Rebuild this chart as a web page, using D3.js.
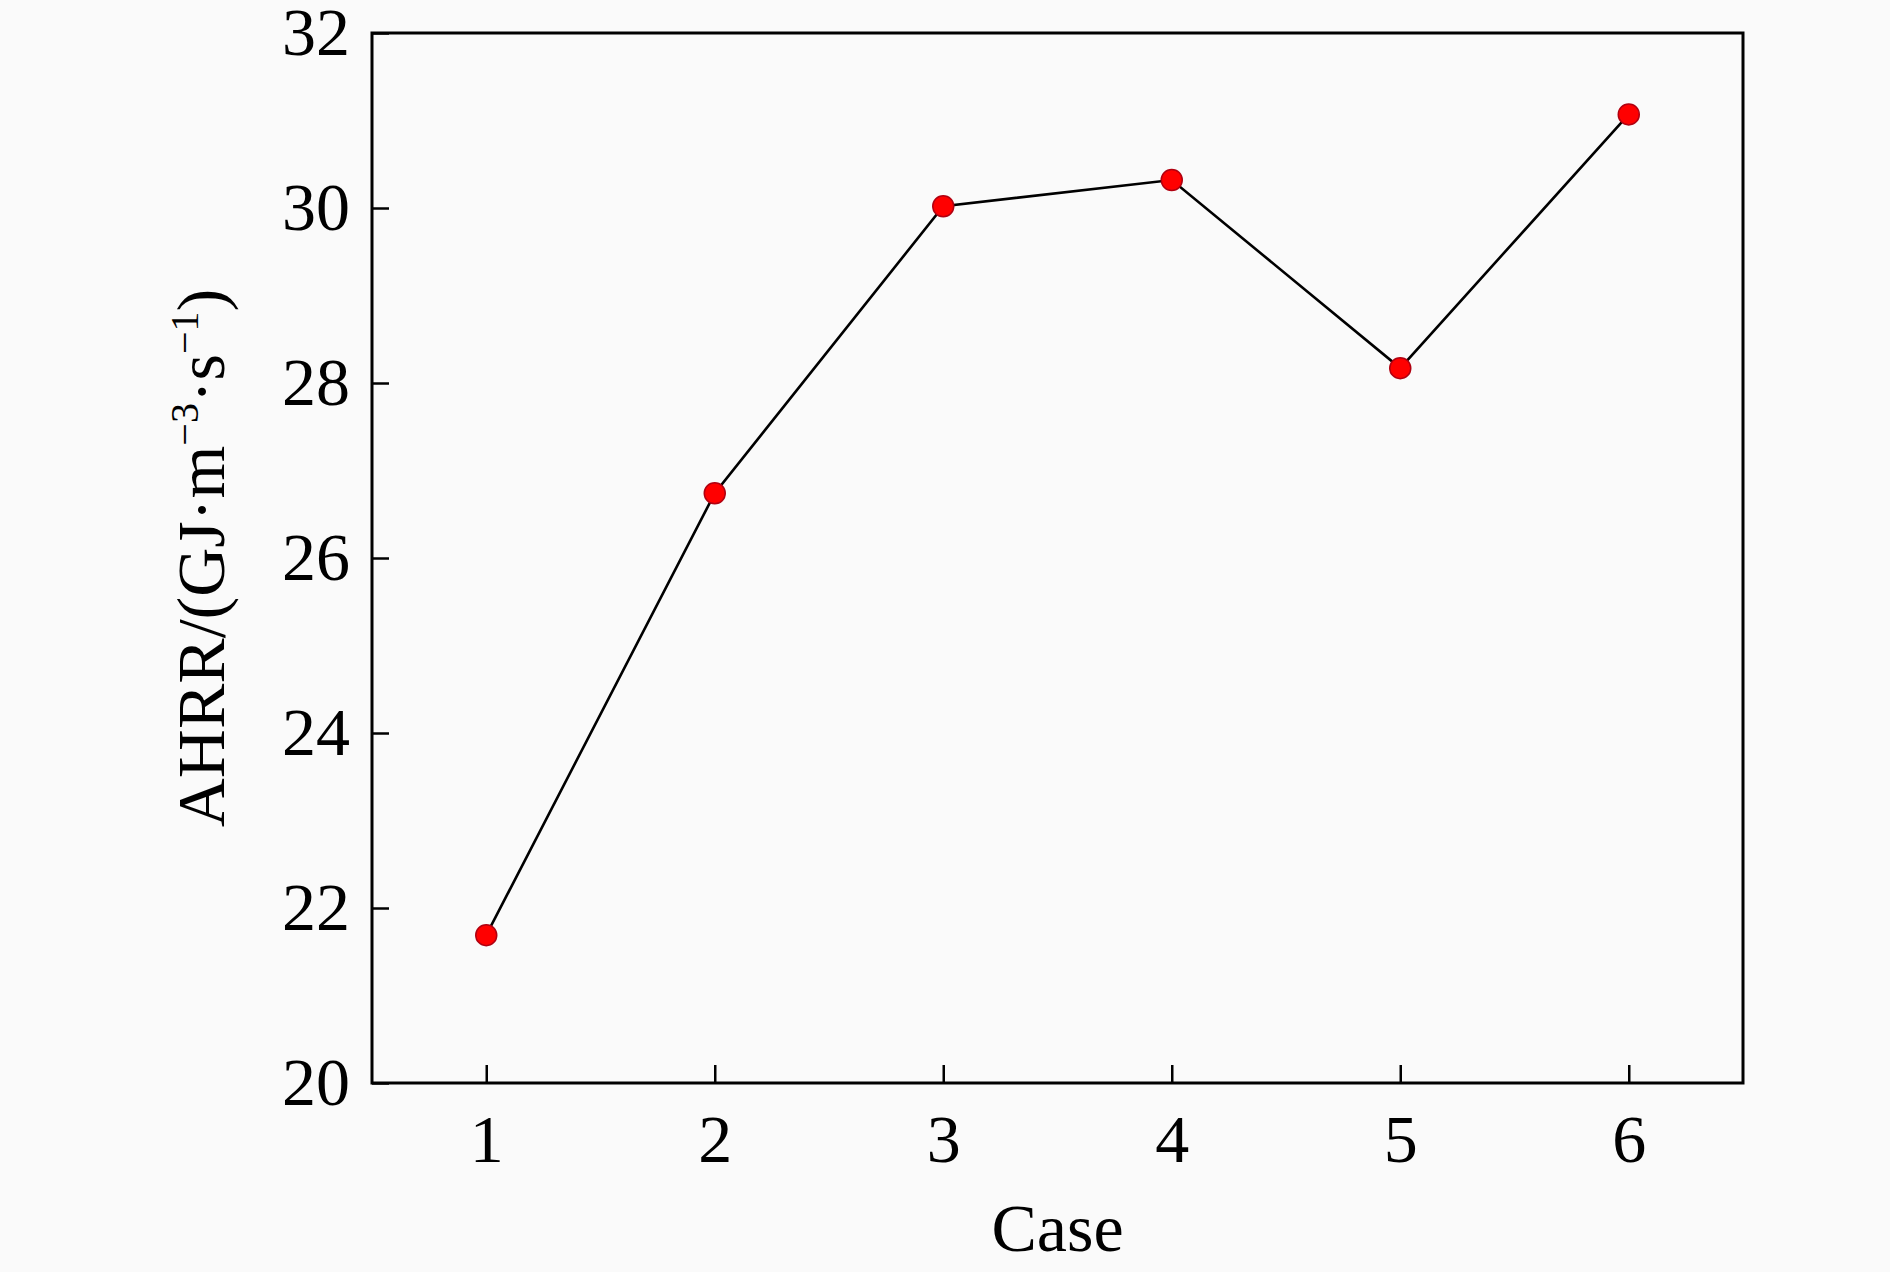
<!DOCTYPE html>
<html>
<head>
<meta charset="utf-8">
<title>AHRR by case</title>
<script src="https://cdn.jsdelivr.net/npm/d3@7"></script>
<style>
  body { margin: 0; background: #fafafa; }
  text { font-family: "Liberation Serif", "DejaVu Serif", serif; fill: #000; }
</style>
</head>
<body>
<div id="container"></div>
<script>
  // Data.
  const cases = [1, 2, 3, 4, 5, 6];
  const ahrr = [21.69, 26.74, 30.02, 30.32, 28.17, 31.07];
  const yTicks = [20, 22, 24, 26, 28, 30, 32];

  const data = cases.map((c, i) => ({ c, v: ahrr[i] }));

  // Chart dimensions.
  const width = 1890;
  const height = 1272;
  const marginTop = 33;
  const marginRight = 147;
  const marginBottom = 189;
  const marginLeft = 372;
  const fontSize = 68;

  const x = d3.scaleLinear()
      .domain([0.5, 6.5])
      .range([marginLeft, width - marginRight]);

  const y = d3.scaleLinear()
      .domain([20, 32])
      .range([height - marginBottom, marginTop]);

  const svg = d3.create("svg")
      .attr("width", width)
      .attr("height", height)
      .style("background", "#fafafa");

  // x-axis, ticks pointing inward.
  const gx = svg.append("g")
      .attr("transform", `translate(0,${height - marginBottom})`)
      .call(d3.axisBottom(x).tickValues(cases).tickSize(-18).tickPadding(31).tickFormat(d3.format("d")));
  gx.select(".domain").remove();
  gx.selectAll(".tick line").attr("stroke", "#000").attr("stroke-width", 2.5);
  gx.selectAll(".tick text").attr("font-size", fontSize).attr("font-family", null);

  // y-axis.
  const gy = svg.append("g")
      .attr("transform", `translate(${marginLeft},0)`)
      .call(d3.axisLeft(y).tickValues(yTicks).tickSize(-17).tickPadding(22).tickFormat(d3.format("d")));
  gy.select(".domain").remove();
  gy.selectAll(".tick line").attr("stroke", "#000").attr("stroke-width", 2.5);
  gy.selectAll(".tick text").attr("font-size", fontSize).attr("font-family", null);

  // Frame.
  svg.append("rect")
      .attr("x", marginLeft)
      .attr("y", marginTop)
      .attr("width", width - marginLeft - marginRight)
      .attr("height", height - marginTop - marginBottom)
      .attr("fill", "none")
      .attr("stroke", "#000")
      .attr("stroke-width", 3);

  // Line.
  svg.append("path")
      .datum(data)
      .attr("fill", "none")
      .attr("stroke", "#000")
      .attr("stroke-width", 2.6)
      .attr("d", d3.line().x(d => x(d.c)).y(d => y(d.v)));

  // Markers.
  svg.append("g")
      .selectAll("circle")
      .data(data)
      .join("circle")
      .attr("cx", d => x(d.c))
      .attr("cy", d => y(d.v))
      .attr("r", 10.5)
      .attr("fill", "#ff0000")
      .attr("stroke", "#b00010")
      .attr("stroke-width", 1.5);

  // Axis titles.
  svg.append("text")
      .attr("x", (marginLeft + width - marginRight) / 2)
      .attr("y", 1251)
      .attr("text-anchor", "middle")
      .attr("font-size", fontSize)
      .text("Case");

  const yl = svg.append("text")
      .attr("transform", `translate(224,${(marginTop + height - marginBottom) / 2}) rotate(-90)`)
      .attr("text-anchor", "middle")
      .attr("font-size", fontSize);
  yl.append("tspan").text("AHRR/(GJ\u00b7m");
  yl.append("tspan").attr("font-size", 40).attr("dy", -26).text("\u22123");
  yl.append("tspan").attr("dy", 26).text("\u00b7s");
  yl.append("tspan").attr("font-size", 40).attr("dy", -26).text("\u22121");
  yl.append("tspan").attr("dy", 26).text(")");

  document.getElementById("container").append(svg.node());
</script>
</body>
</html>
